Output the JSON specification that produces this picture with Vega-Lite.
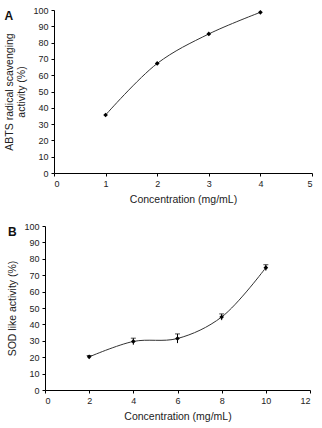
{
  "$schema": "https://vega.github.io/schema/vega-lite/v6.json",
  "padding": {"left": 4, "top": 6, "right": 6, "bottom": 2},
  "spacing": 17,
  "columns": 1,
  "align": "none",
  "config": {
    "font": "Liberation Sans",
    "view": {"stroke": null},
    "axis": {
      "grid": false,
      "domainColor": "#000",
      "tickColor": "#000",
      "tickSize": 3,
      "labelFontSize": 9,
      "labelColor": "#222",
      "titleFontSize": 10.5,
      "titleColor": "#222",
      "titleFontWeight": "normal",
      "labelPadding": 3
    },
    "title": {"fontSize": 12, "fontWeight": "bold", "anchor": "start", "frame": "bounds", "color": "#111", "baseline": "top", "offset": -12, "dy": 5}
  },
  "concat": [
    {
      "width": 267,
      "height": 163,
      "title": {"text": "A"},
      "data": {"values": [
        {"conc": 1, "activity": 35.6, "lo": 35.0, "hi": 36.2},
        {"conc": 2, "activity": 67.2, "lo": 66.5, "hi": 67.9},
        {"conc": 3, "activity": 85.3, "lo": 84.7, "hi": 85.9},
        {"conc": 4, "activity": 98.6, "lo": 98.0, "hi": 99.2}
      ]},
      "encoding": {
        "x": {"field": "conc", "type": "quantitative", "title": "Concentration (mg/mL)",
              "scale": {"domain": [0, 5], "range": [9, 267]}, "axis": {"values": [0, 1, 2, 3, 4, 5], "titlePadding": 6}}
      },
      "layer": [
        {"mark": {"type": "line", "interpolate": "catmull-rom", "color": "#333", "strokeWidth": 1},
         "encoding": {"y": {"field": "activity", "type": "quantitative",
                            "title": ["ABTS radical scavenging", "activity (%)"],
                            "scale": {"domain": [0, 100]},
                            "axis": {"values": [0,10,20,30,40,50,60,70,80,90,100], "titlePadding": 6, "offset": -9}}}},
        {"mark": {"type": "rule", "color": "#000"},
         "encoding": {"y": {"field": "lo", "type": "quantitative",
                            "title": ["ABTS radical scavenging", "activity (%)"],
                            "scale": {"domain": [0, 100]},
                            "axis": {"values": [0,10,20,30,40,50,60,70,80,90,100], "titlePadding": 6, "offset": -9}},
                      "y2": {"field": "hi"}}},
        {"mark": {"type": "point", "shape": "diamond", "filled": true, "color": "#000", "size": 22, "opacity": 1},
         "encoding": {"y": {"field": "activity", "type": "quantitative",
                            "title": ["ABTS radical scavenging", "activity (%)"],
                            "scale": {"domain": [0, 100]},
                            "axis": {"values": [0,10,20,30,40,50,60,70,80,90,100], "titlePadding": 6, "offset": -9}}}}
      ]
    },
    {
      "width": 265,
      "height": 164,
      "title": {"text": "B"},
      "data": {"values": [
        {"conc": 2, "activity": 20.2, "lo": 19.4, "hi": 21.0},
        {"conc": 4, "activity": 29.6, "lo": 27.6, "hi": 31.6},
        {"conc": 6, "activity": 31.4, "lo": 28.6, "hi": 34.2},
        {"conc": 8, "activity": 44.5, "lo": 42.6, "hi": 46.4},
        {"conc": 10, "activity": 74.6, "lo": 72.8, "hi": 76.4}
      ]},
      "encoding": {
        "x": {"field": "conc", "type": "quantitative", "title": "Concentration (mg/mL)",
              "scale": {"domain": [0, 12]}, "axis": {"values": [0, 2, 4, 6, 8, 10, 12], "titlePadding": 6}}
      },
      "layer": [
        {"mark": {"type": "line", "interpolate": "catmull-rom", "color": "#333", "strokeWidth": 1},
         "encoding": {"y": {"field": "activity", "type": "quantitative",
                            "title": "SOD like activity (%)",
                            "scale": {"domain": [0, 100]},
                            "axis": {"values": [0,10,20,30,40,50,60,70,80,90,100], "titlePadding": 6}}}},
        {"mark": {"type": "rule", "color": "#000"},
         "encoding": {"y": {"field": "lo", "type": "quantitative",
                            "title": "SOD like activity (%)",
                            "scale": {"domain": [0, 100]},
                            "axis": {"values": [0,10,20,30,40,50,60,70,80,90,100], "titlePadding": 6}},
                      "y2": {"field": "hi"}}},
        {"mark": {"type": "tick", "color": "#000", "orient": "horizontal", "size": 5, "thickness": 1},
         "encoding": {"y": {"field": "hi", "type": "quantitative",
                            "title": "SOD like activity (%)",
                            "scale": {"domain": [0, 100]},
                            "axis": {"values": [0,10,20,30,40,50,60,70,80,90,100], "titlePadding": 6}}}},
        {"mark": {"type": "point", "shape": "diamond", "filled": true, "color": "#000", "size": 22, "opacity": 1},
         "encoding": {"y": {"field": "activity", "type": "quantitative",
                            "title": "SOD like activity (%)",
                            "scale": {"domain": [0, 100]},
                            "axis": {"values": [0,10,20,30,40,50,60,70,80,90,100], "titlePadding": 6}}}}
      ]
    }
  ]
}
